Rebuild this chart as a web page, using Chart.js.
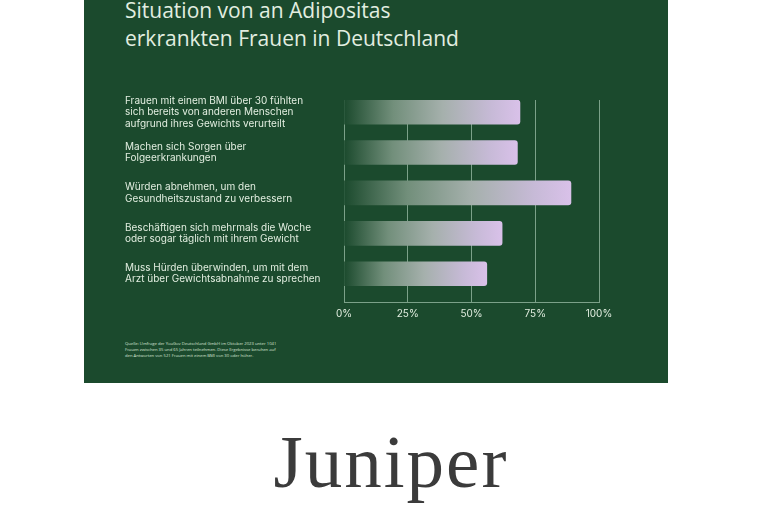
<!DOCTYPE html>
<html lang="de">
<head>
<meta charset="utf-8">
<script src="https://cdn.jsdelivr.net/npm/chart.js@4"></script>
<style>
    html, body { margin: 0; padding: 0; background: #ffffff; }
    body { width: 762px; height: 508px; position: relative; overflow: hidden; }
    #panel {
        position: absolute; left: 84px; top: 0; width: 584px; height: 383px;
        background: #1b4a2d;
    }
    #titel {
        position: absolute; left: 125px; top: -4px; margin: 0;
        font-family: "Open Sans", sans-serif; font-weight: 400;
        font-size: 21px; line-height: 28px; color: #e2eee0;
    }
    #quelle {
        position: absolute; left: 125px; top: 341px; width: 158px;
        font-family: "Open Sans", sans-serif; font-size: 4.2px; line-height: 6px;
        color: #d6e3d4;
    }
    #logo {
        position: absolute; left: 0; width: 782px; top: 417px; text-align: center;
        font-family: "Liberation Serif", serif; font-size: 75px; line-height: 90px;
        letter-spacing: 2px; color: #3b3b3b;
    }
    #chart { position: absolute; left: 0; top: 0; }
</style>
</head>
<body>
<div id="panel"></div>
<h1 id="titel">Situation von an Adipositas<br>erkrankten Frauen in Deutschland</h1>
<div id="quelle">Quelle: Umfrage der YouGov Deutschland GmbH im Oktober 2023 unter 1041 Frauen zwischen 35 und 65 Jahren teilnehmen. Diese Ergebnisse beruhen auf den Antworten von 521 Frauen mit einem BMI von 30 oder höher.</div>
<div id="logo">Juniper</div>
<canvas id="chart" width="762" height="508"></canvas>

<script>
// ===============================
// Daten
// ===============================
const kategorien = [
    ['Frauen mit einem BMI über 30 fühlten', 'sich bereits von anderen Menschen', 'aufgrund ihres Gewichts verurteilt'],
    ['Machen sich Sorgen über', 'Folgeerkrankungen'],
    ['Würden abnehmen, um den', 'Gesundheitszustand zu verbessern'],
    ['Beschäftigen sich mehrmals die Woche', 'oder sogar täglich mit ihrem Gewicht'],
    ['Muss Hürden überwinden, um mit dem', 'Arzt über Gewichtsabnahme zu sprechen']
];
const anteile = [69, 68, 89, 62, 56];
const xTicks = [0, 25, 50, 75, 100];

const textFarbe = '#e2eee0';
const gitterFarbe = 'rgba(190, 220, 198, 0.6)';

// ===============================
// Verlauf für die Balken
// ===============================
function balkenVerlauf(context) {
    const chart = context.chart;
    if (!chart.chartArea || !context.parsed) return '#d8c0e8';
    const x = chart.scales.x;
    const x0 = x.getPixelForValue(0);
    const x1 = x.getPixelForValue(context.parsed.x);
    const g = chart.ctx.createLinearGradient(x0, 0, x1, 0);
    g.addColorStop(0, 'rgba(27, 74, 45, 1)');
    g.addColorStop(0.28, '#728f7b');
    g.addColorStop(0.56, '#a5b0ac');
    g.addColorStop(0.84, '#c7bad7');
    g.addColorStop(1, '#d9c1e9');
    return g;
}

new Chart(document.getElementById('chart'), {
    type: 'bar',
    data: {
        datasets: [{
            data: anteile.map((v, i) => ({ x: v, y: i })),
            backgroundColor: balkenVerlauf,
            borderWidth: 0,
            borderRadius: 3,
            barThickness: 24
        }]
    },
    options: {
        indexAxis: 'y',
        responsive: false,
        animation: false,
        layout: { padding: { left: 125, right: 163, top: 100, bottom: 176 } },
        plugins: {
            legend: { display: false },
            tooltip: { enabled: false }
        },
        scales: {
            x: {
                type: 'linear',
                min: 0,
                max: 100,
                afterBuildTicks: (s) => { s.ticks = xTicks.map(v => ({ value: v })); },
                afterFit: (s) => { s.height = 30; },
                grid: { color: gitterFarbe, drawTicks: false, lineWidth: 1 },
                border: { display: true, color: gitterFarbe, width: 1 },
                ticks: {
                    color: textFarbe,
                    padding: 6,
                    maxRotation: 0,
                    font: { family: 'Inter', size: 10 },
                    callback: (v) => v + '%'
                }
            },
            y: {
                type: 'linear',
                reverse: true,
                offset: false,
                min: -0.3,
                max: 4.7,
                afterBuildTicks: (s) => { s.ticks = kategorien.map((_, i) => ({ value: i })); },
                afterFit: (s) => { s.width = 219; },
                grid: { display: false, offset: false },
                border: { display: false },
                ticks: {
                    color: textFarbe,
                    crossAlign: 'far',
                    font: { family: 'Inter', size: 10, lineHeight: 1.15 },
                    callback: (v) => kategorien[v]
                }
            }
        }
    }
});
</script>
</body>
</html>
